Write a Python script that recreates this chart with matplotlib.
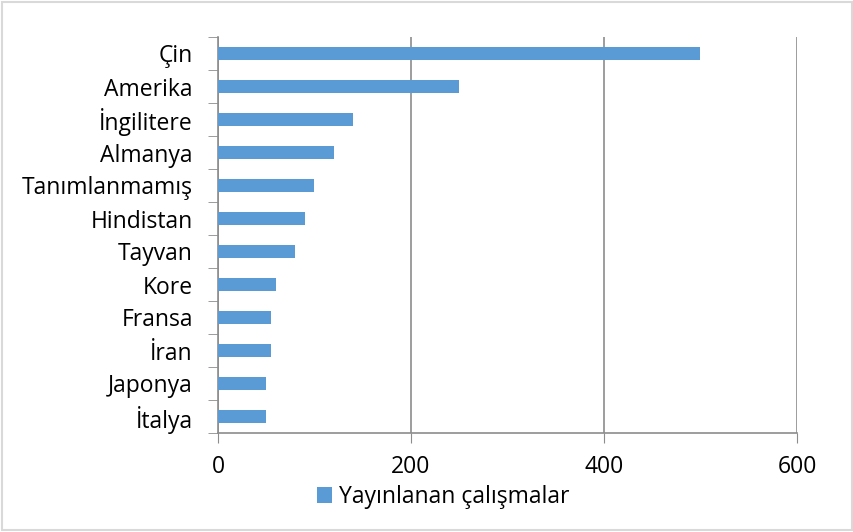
import matplotlib.pyplot as plt
from matplotlib.patches import Rectangle

countries = ['Çin', 'Amerika', 'İngilitere', 'Almanya', 'Tanımlanmamış', 'Hindistan',
             'Tayvan', 'Kore', 'Fransa', 'İran', 'Japonya', 'İtalya']
publications = [500, 250, 140, 120, 100, 90, 80, 60, 55, 55, 50, 50]
x_ticks = [0, 200, 400, 600]
series_name = 'Yayınlanan çalışmalar'

bar_color = '#5B9BD5'
grid_color = '#8C8C8C'

plt.rcParams['font.family'] = ['Open Sans', 'DejaVu Sans']
fs = 16.5

fig = plt.figure(figsize=(8.54, 5.32), dpi=100)
ax = fig.add_axes([218 / 854, 1 - 433 / 532, (797 - 218) / 854, (433 - 37) / 532])

# reversed so the first country sits on top
ypos = list(range(len(countries)))[::-1]
ax.barh(ypos, publications, height=0.4, color=bar_color, label=series_name, zorder=3)

ax.set_xlim(0, 600)
ax.set_ylim(-0.5, len(countries) - 0.5)
ax.set_xticks(x_ticks)
ax.set_xticklabels([str(t) for t in x_ticks], fontsize=fs)
ax.xaxis.grid(True, color=grid_color, linewidth=1.2, zorder=0)

# category labels, ticks between categories like Excel
ax.set_yticks(ypos)
ax.set_yticklabels(countries, fontsize=fs)
ax.set_yticks([i - 0.5 for i in range(len(countries) + 1)], minor=True)
ax.tick_params(axis='y', which='major', length=0, pad=18)
ax.tick_params(axis='y', which='minor', length=7, color=grid_color, direction='out')
ax.tick_params(axis='x', length=7, color=grid_color, direction='out', pad=9)

for side in ['top', 'right']:
    ax.spines[side].set_visible(False)
for side in ['left', 'bottom']:
    ax.spines[side].set_color(grid_color)
    ax.spines[side].set_linewidth(1.2)

fig.legend(loc='center', bbox_to_anchor=(443 / 854, 1 - 497 / 532), frameon=False,
           fontsize=fs, handlelength=0.68, handleheight=0.68, handletextpad=0.3)

# light border around the whole chart
fig.patches.append(Rectangle((0.002, 0.004), 0.996, 0.992, transform=fig.transFigure,
                             fill=False, edgecolor='#D9D9D9', linewidth=1.5))

fig.savefig('out.png', dpi=100)
